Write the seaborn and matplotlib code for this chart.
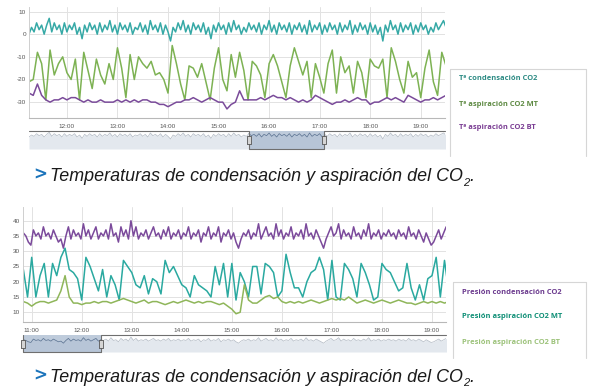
import numpy as np
import pandas as pd
import seaborn as sns
import matplotlib
matplotlib.use("Agg")
import matplotlib.pyplot as plt
from matplotlib import font_manager
import matplotlib.transforms as mtransforms
from matplotlib.lines import Line2D

# ---------------- DATA ----------------
# Chart 1: temperatures (time in hours)
top_start = 11.25            # 11:15
top_fast_step = 3 / 60       # 3 min
top_slow_step = 5 / 60       # 5 min

top_cond = [
    0, 3, 1, 5, 2, 4, 0, 4, 7, 1, 5, 2, 4, 0, 5,
    1, 4, 2, 5, 0, 3, -2, 4, 1, 5, 2, 4, 0, 5, 1,
    4, 2, 6, 1, 4, 0, 5, 2, 4, 1, 5, 0, 3, 2, 5,
    1, 4, 0, 6, 2, 4, 1, 5, 0, 4, 1, -3, 3, 1, 5,
    2, 6, 1, 4, 0, 5, 2, 4, 1, 5, 0, 3, -2, 4, 1,
    5, 2, 4, 0, 5, 1, 6, 2, 4, 0, 3, 1, 5, 2, 4,
    1, 5, 0, 4, 2, 6, 1, 4, 0, 5, 2, 4, 1, 5, 0,
    4, 2, 5, 1, 4, 0, 6, 1, 4, 2, 5, 0, 4, 1, 5,
    2, 4, 0, 5, 1, 4, 2, 6, 0, 4, 1, 5, 2, 4, 0,
    5, 1, 4, 0, 3, -3, 4, 1, 6, 2, 4, 0, 5, 1, 4,
    2, 5, 0, 4, 1, 5, 2, 4, 0, 3, 1, 5, 2, 4, 6, 3,
]
top_mt = [
    -21, -20, -8, -13, -29, -7, -18, -13, -10, -17,
    -20, -11, -29, -8, -16, -24, -11, -18, -22, -13,
    -20, -6, -15, -28, -9, -20, -10, -13, -15, -12,
    -18, -17, -20, -26, -5, -13, -22, -29, -14, -15,
    -19, -13, -21, -29, -15, -6, -20, -25, -9, -19,
    -8, -16, -29, -12, -14, -18, -28, -13, -9, -14,
    -21, -28, -14, -6, -12, -18, -12, -28, -13, -19,
    -26, -13, -7, -26, -10, -17, -14, -26, -12, -17,
    -28, -11, -14, -15, -11, -28, -6, -12, -20, -26,
    -12, -19, -17, -28, -15, -7, -21, -27, -8, -14,
]
top_bt = [
    -26, -27, -22, -27, -29, -30, -29, -29, -28, -29,
    -28, -28, -29, -30, -29, -30, -30, -29, -30, -30,
    -30, -29, -30, -29, -30, -29, -30, -29, -29, -30,
    -30, -31, -31, -32, -31, -30, -30, -29, -29, -28,
    -29, -30, -29, -28, -29, -30, -30, -33, -31, -30,
    -25, -29, -29, -29, -29, -28, -29, -28, -27, -28,
    -28, -29, -28, -29, -30, -29, -30, -29, -27, -28,
    -29, -30, -31, -30, -30, -29, -30, -29, -28, -29,
    -29, -31, -30, -30, -29, -28, -29, -28, -29, -30,
    -27, -28, -29, -30, -29, -29, -28, -29, -28, -27,
]
top_names = ["Tª condensación CO2", "Tª aspiración CO2 MT", "Tª aspiración CO2 BT"]
top_xticks = [12, 13, 14, 15, 16, 17, 18, 19]
top_xlabels = ["12:00", "13:00", "14:00", "15:00", "16:00", "17:00", "18:00", "19:00"]
top_yticks = [10, 0, -10, -20, -30]
top_ylabels = ["10", "0", "-10", "-20", "-30"]

# Chart 2: pressures
bot_start = 10 + 50 / 60     # 10:50
bot_fast_step = 3 / 60
bot_slow_step = 5 / 60

bot_cond = [
    36, 35, 33, 32, 37, 35, 36, 34, 38, 35, 36, 34, 37, 35, 33,
    34, 31, 35, 38, 34, 37, 35, 36, 34, 39, 35, 37, 34, 36, 38,
    34, 36, 35, 37, 34, 39, 35, 36, 33, 38, 35, 37, 34, 40, 35,
    38, 34, 36, 35, 37, 34, 36, 38, 35, 36, 34, 37, 35, 38, 34,
    36, 35, 37, 34, 36, 35, 38, 34, 36, 35, 37, 33, 36, 35, 38,
    34, 36, 35, 38, 33, 36, 35, 37, 34, 36, 33, 31, 34, 36, 35,
    37, 34, 36, 35, 39, 34, 36, 38, 35, 36, 34, 39, 35, 37, 34,
    36, 35, 38, 34, 36, 35, 37, 34, 39, 35, 36, 34, 37, 35, 33,
    31, 34, 36, 38, 35, 36, 39, 34, 37, 35, 36, 34, 38, 35, 36,
    34, 37, 35, 39, 34, 36, 35, 37, 34, 36, 35, 37, 35, 36, 34,
    37, 35, 36, 34, 38, 35, 36, 34, 37, 35, 33, 36, 34, 32, 33,
    35, 37, 34, 36, 38, 35,
]
bot_mt = [
    24, 15, 28, 15, 22, 26, 15, 26, 22, 28,
    31, 24, 23, 21, 14, 28, 25, 21, 17, 24,
    15, 22, 19, 14, 27, 25, 23, 19, 18, 22,
    16, 21, 20, 16, 27, 23, 25, 22, 19, 18,
    15, 22, 19, 18, 17, 15, 25, 19, 26, 15,
    26, 14, 23, 20, 15, 25, 25, 16, 26, 25,
    23, 15, 17, 29, 23, 18, 18, 15, 20, 23,
    24, 28, 24, 14, 27, 15, 14, 26, 24, 21,
    15, 26, 23, 19, 14, 15, 26, 24, 23, 20,
    17, 18, 26, 18, 14, 19, 14, 21, 22, 28,
    15, 27, 17,
]
bot_bt = [
    13.5, 13, 12, 13, 13.5, 13.5, 13, 13.5, 14, 17,
    22, 15, 13, 13, 12.5, 13, 13, 13.5, 13, 13.5,
    13.5, 13, 13.5, 14, 14.5, 14, 13.5, 13, 13.5, 14,
    13, 13.5, 13.5, 13, 12.5, 13, 13.5, 13, 13.5, 14,
    13.5, 13, 13.5, 13, 13.5, 13.5, 13, 12.5, 13, 12,
    11, 9.5, 10, 19, 14, 13, 13, 14, 15, 15.5,
    14.5, 15, 13.5, 13, 13.5, 13, 13.5, 13, 13.5, 14,
    13.5, 13, 13.5, 14, 14.5, 14, 14.5, 14, 15, 14,
    13, 13.5, 14, 13.5, 13, 13.5, 14, 13.5, 13, 13.5,
    14, 13.5, 13, 13, 12.5, 13, 13.5, 13, 13.5, 13,
    13.5, 13, 13.5,
]
bot_names = ["Presión condensación CO2", "Presión aspiración CO2 MT", "Presión aspiración CO2 BT"]
bot_xticks = [11, 12, 13, 14, 15, 16, 17, 18, 19]
bot_xlabels = ["11:00", "12:00", "13:00", "14:00", "15:00", "16:00", "17:00", "18:00", "19:00"]
bot_yticks = [40, 35, 30, 25, 20, 15, 10]
bot_ylabels = ["40", "35", "30", "25", "20", "15", "10"]

caption = "Temperaturas de condensación y aspiración del CO"

# navigator selections (hours)
top_sel = (15.60, 17.09)
bot_sel = (10.82, 12.39)

# ---------------- STYLE ----------------
sns.set_style("white")
names = {f.name for f in font_manager.fontManager.ttflist}
narrow = "Liberation Sans Narrow" if "Liberation Sans Narrow" in names else "Liberation Sans"
plt.rcParams["font.family"] = ["Open Sans", "DejaVu Sans"]

W, H = 600, 389
fig = plt.figure(figsize=(6, 3.89), dpi=100)


def box(x0, y0, x1, y1):
    return [x0 / W, 1 - y1 / H, (x1 - x0) / W, (y1 - y0) / H]


def times(start, step, n):
    return start + step * np.arange(n)


def long_df(series):
    frames = []
    for name, t, v in series:
        frames.append(pd.DataFrame({"t": t, "v": v, "s": name}))
    return pd.concat(frames, ignore_index=True)


def main_chart(ax, df, palette, xlim, ylim, xt, xl, yt, yl):
    sns.lineplot(data=df, x="t", y="v", hue="s", palette=palette,
                 estimator=None, sort=False, lw=1.1, legend=False, ax=ax)
    ax.set_xlim(*xlim)
    ax.set_ylim(*ylim)
    ax.set_xticks(xt)
    ax.set_xticklabels(xl, fontsize=4.6, color="#555555", family=[narrow, "DejaVu Sans"])
    ax.set_yticks(yt)
    ax.set_yticklabels(yl, fontsize=4.6, color="#555555", family=[narrow, "DejaVu Sans"])
    ax.tick_params(axis="x", length=0, pad=4)
    ax.tick_params(axis="y", length=0, pad=2)
    ax.grid(True, color="#e2e2e2", lw=0.7)
    ax.set_axisbelow(True)
    for s in ["top", "right"]:
        ax.spines[s].set_visible(False)
    ax.spines["left"].set_color("#cfcfcf")
    ax.spines["bottom"].set_color("#b8b8b8")
    ax.spines["left"].set_linewidth(0.7)
    ax.spines["bottom"].set_linewidth(0.8)
    ax.set_xlabel("")
    ax.set_ylabel("")


def navigator(ax, t, v, xlim, ylim, sel):
    t = np.asarray(t)
    v = np.asarray(v, dtype=float)
    ax.fill_between(t, v, ylim[0], color="#e3e8ee", lw=0)
    sns.lineplot(x=t, y=v, color="#b2bac4", lw=0.5, ax=ax, estimator=None)
    ax.axvspan(sel[0], sel[1], color="#a9bad0", alpha=0.75, lw=0)
    m = (t >= sel[0]) & (t <= sel[1])
    ax.plot(t[m], v[m], color="#5b7597", lw=0.5)
    ax.set_xlim(*xlim)
    ax.set_ylim(*ylim)
    ax.axis("off")
    trans = mtransforms.blended_transform_factory(ax.transData, ax.transAxes)
    ox = [xlim[0], sel[0], sel[0], sel[1], sel[1], xlim[1]]
    oy = [1, 1, 0, 0, 1, 1]
    ax.add_line(Line2D(ox, oy, transform=trans, color="#6f6f6f", lw=0.8, clip_on=False))
    hmark = [(-1, -2), (1, -2), (1, 2), (-1, 2), (-1, -2)]
    for x in sel:
        ax.plot([x], [0.5], transform=trans, marker=hmark, markersize=6,
                markerfacecolor="#d5d5d5", markeredgecolor="#555555",
                markeredgewidth=0.6, clip_on=False, zorder=5)


def legend_box(x0, y0, x1, y1, labels, colors, ys, tx):
    ec = "#d6d6d6"
    for xs, yss in [((x0, x0), (y0, y1)), ((x0, x1), (y0, y0)), ((x1, x1), (y0, y1))]:
        fig.add_artist(Line2D([xx / W for xx in xs], [1 - yy / H for yy in yss],
                              color=ec, lw=0.8))
    for lab, c, y in zip(labels, colors, ys):
        fig.text(tx / W, 1 - y / H, lab, color=c, fontsize=5.4, weight="bold",
                 va="center", ha="left")


# ---------------- CHART 1 ----------------
top_df = long_df([
    (top_names[0], times(top_start, top_fast_step, len(top_cond)), top_cond),
    (top_names[1], times(top_start, top_slow_step, len(top_mt)), top_mt),
    (top_names[2], times(top_start, top_slow_step, len(top_bt)), top_bt),
])
top_pal = {top_names[0]: "#36a9a6", top_names[1]: "#7db253", top_names[2]: "#7a4b9a"}
ax1 = fig.add_axes(box(29, 7, 445, 118))
main_chart(ax1, top_df, top_pal, (11.25, 19.48), (-37, 12),
           top_xticks, top_xlabels, top_yticks, top_ylabels)

nav1 = fig.add_axes(box(29, 131, 445, 149))
navigator(nav1, times(top_start, top_fast_step, len(top_cond)), top_cond,
          (11.25, 19.48), (-18, 9), top_sel)

legend_box(450, 69, 586, 156, top_names, ["#2d8b84", "#5e8a43", "#7a3d93"],
           [79, 105, 128], 459)

# ---------------- CHART 2 ----------------
bot_df = long_df([
    (bot_names[0], times(bot_start, bot_fast_step, len(bot_cond)), bot_cond),
    (bot_names[1], times(bot_start, bot_slow_step, len(bot_mt)), bot_mt),
    (bot_names[2], times(bot_start, bot_slow_step, len(bot_bt)), bot_bt),
])
bot_pal = {bot_names[0]: "#7b4a9b", bot_names[1]: "#2aa9a0", bot_names[2]: "#8fb65a"}
ax2 = fig.add_axes(box(22.7, 207, 446, 322))
main_chart(ax2, bot_df, bot_pal, (10.82, 19.28), (6.8, 44.5),
           bot_xticks, bot_xlabels, bot_yticks, bot_ylabels)

nav2 = fig.add_axes(box(22.7, 335, 446, 352))
navigator(nav2, times(bot_start, bot_fast_step, len(bot_cond)), bot_cond,
          (10.82, 19.28), (18, 43), bot_sel)

legend_box(452.7, 281.7, 586, 358, bot_names, ["#6b3a8e", "#0f8f76", "#9cc27a"],
           [293, 317, 342], 462)

# ---------------- CAPTIONS ----------------
cap_font = [narrow, "DejaVu Sans"]
cap_size = 12.9 if narrow == "Liberation Sans" else 13.5
for base in (181, 381.5):
    fig.text(33 / W, 1 - (base - 1) / H, ">", color="#1b74bb", fontsize=12,
             weight="bold", family=["DejaVu Sans"], va="baseline", ha="left")
    t = fig.text(50 / W, 1 - base / H, caption, color="#1a1a1a", fontsize=cap_size,
                 style="italic", family=cap_font, va="baseline", ha="left")
    fig.canvas.draw()
    bb = t.get_window_extent()
    t2 = fig.text(bb.x1 / W + 0.5 / W, 1 - (base + 4.5) / H, "2", color="#1a1a1a",
                  fontsize=8, style="italic", family=cap_font, va="baseline", ha="left")
    fig.canvas.draw()
    bb2 = t2.get_window_extent()
    fig.text(bb2.x1 / W, 1 - base / H, ".", color="#1a1a1a", fontsize=cap_size,
             style="italic", family=cap_font, va="baseline", ha="left")

fig.savefig("out.png", dpi=100)
